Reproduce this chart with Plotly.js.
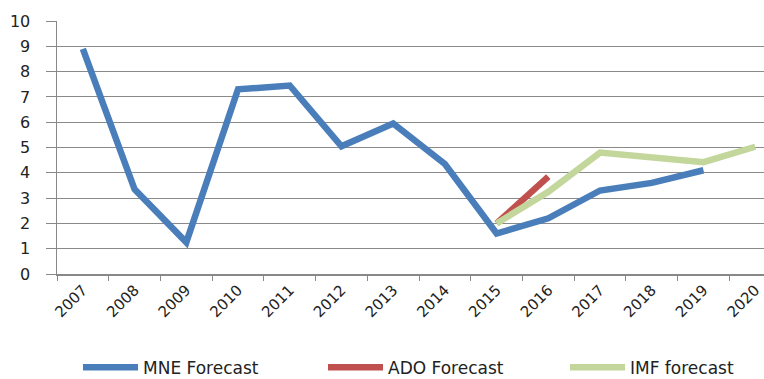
<!DOCTYPE html>
<html>
<head>
<meta charset="utf-8">
<script src="https://cdn.plot.ly/plotly-3.0.1.min.js"></script>
<style>html,body{margin:0;padding:0;background:#fff;}#chart{width:764px;height:379px;}</style>
</head>
<body>
<div id="chart"></div>
<script>
const years = ["2007","2008","2009","2010","2011","2012","2013","2014","2015","2016","2017","2018","2019","2020"];
const mneForecast = [8.9, 3.35, 1.25, 7.3, 7.45, 5.05, 5.95, 4.35, 1.6, 2.2, 3.3, 3.6, 4.1, null];
const adoForecast = [null, null, null, null, null, null, null, null, 2.0, 3.85, null, null, null, null];
const imfForecast = [null, null, null, null, null, null, null, null, 2.0, 3.25, 4.8, 4.62, 4.42, 5.03];

const traces = [
  {x: years, y: mneForecast, name: "MNE Forecast", type: "scatter", mode: "lines",
   line: {color: "#4a7ebb", width: 6.5}, legend: "legend"},
  {x: years, y: adoForecast, name: "ADO Forecast", type: "scatter", mode: "lines",
   line: {color: "#c0504d", width: 6.5}, legend: "legend2"},
  {x: years, y: imfForecast, name: "IMF forecast", type: "scatter", mode: "lines",
   line: {color: "#c3d69b", width: 6.5}, legend: "legend3"}
];

function leg(xpx) {
  return {
    orientation: "h", xref: "container", yref: "container",
    x: xpx / 764, xanchor: "left", y: 0.03, yanchor: "middle",
    itemwidth: 55,
    font: {family: "DejaVu Sans", size: 17, color: "#222"},
    bgcolor: "rgba(0,0,0,0)"
  };
}

const layout = {
  width: 764, height: 379,
  margin: {l: 57, r: 0, t: 21, b: 105},
  paper_bgcolor: "#fff", plot_bgcolor: "#fff",
  showlegend: true,
  xaxis: {
    type: "category", range: [-0.5, 13.17],
    tickson: "boundaries", ticks: "outside", ticklen: 5, tickcolor: "#888",
    showgrid: false, showline: true, linecolor: "#888", linewidth: 1.5,
    tickangle: -45, tickfont: {family: "DejaVu Sans", size: 15, color: "#222"},
    fixedrange: true
  },
  yaxis: {
    range: [0, 10], dtick: 1, tick0: 0,
    ticks: "outside", ticklen: 10, tickcolor: "#888",
    ticklabelstandoff: 12,
    showgrid: true, gridcolor: "#8a8a8a", gridwidth: 1,
    showline: true, linecolor: "#888", linewidth: 1.5, zeroline: false,
    tickfont: {family: "DejaVu Sans", size: 16, color: "#222"},
    fixedrange: true
  },
  legend: leg(78),
  legend2: leg(323),
  legend3: leg(565)
};

Plotly.newPlot("chart", traces, layout, {displayModeBar: false, staticPlot: true});
</script>
</body>
</html>
